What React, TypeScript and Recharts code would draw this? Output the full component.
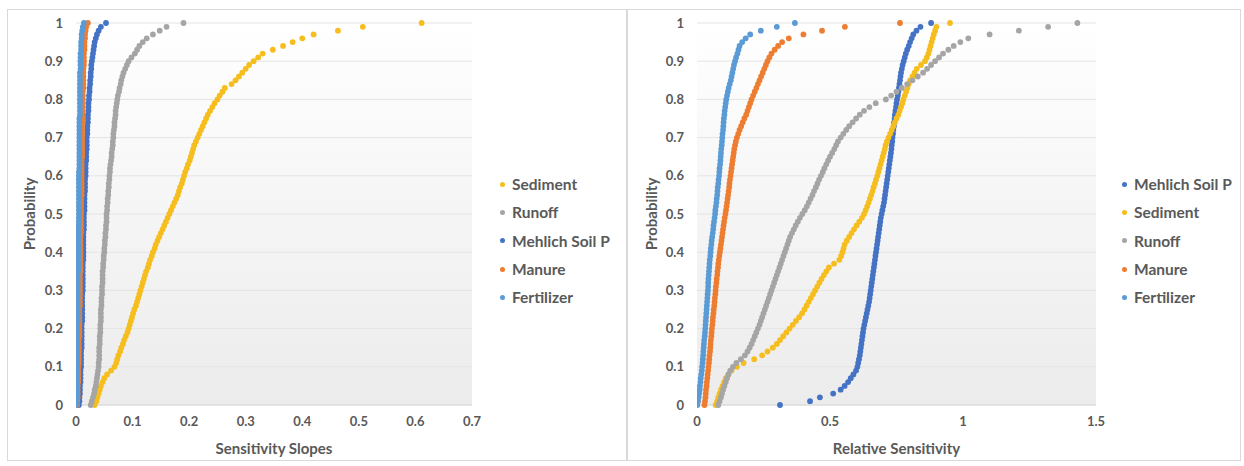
import React from "react";
import { CartesianGrid, Scatter, ScatterChart, XAxis, YAxis, Label } from "recharts";

// cumulative probability levels shared by every series
const probs = [
  0, 0.01, 0.02, 0.03, 0.04, 0.05, 0.06, 0.07, 0.08, 0.09,
  0.1, 0.11, 0.12, 0.13, 0.14, 0.15, 0.16, 0.17, 0.18, 0.19,
  0.2, 0.21, 0.22, 0.23, 0.24, 0.25, 0.26, 0.27, 0.28, 0.29,
  0.3, 0.31, 0.32, 0.33, 0.34, 0.35, 0.36, 0.37, 0.38, 0.39,
  0.4, 0.41, 0.42, 0.43, 0.44, 0.45, 0.46, 0.47, 0.48, 0.49,
  0.5, 0.51, 0.52, 0.53, 0.54, 0.55, 0.56, 0.57, 0.58, 0.59,
  0.6, 0.61, 0.62, 0.63, 0.64, 0.65, 0.66, 0.67, 0.68, 0.69,
  0.7, 0.71, 0.72, 0.73, 0.74, 0.75, 0.76, 0.77, 0.78, 0.79,
  0.8, 0.81, 0.82, 0.83, 0.84, 0.85, 0.86, 0.87, 0.88, 0.89,
  0.9, 0.91, 0.92, 0.93, 0.94, 0.95, 0.96, 0.97, 0.98, 0.99,
  1,
];

// left panel: sensitivity slopes
const slopeSediment = [
  0.033, 0.036, 0.038, 0.04, 0.042, 0.044, 0.047, 0.05, 0.055, 0.062,
  0.068, 0.071, 0.073, 0.075, 0.078, 0.08, 0.083, 0.085, 0.088, 0.091,
  0.093, 0.095, 0.097, 0.099, 0.101, 0.103, 0.106, 0.108, 0.11, 0.112,
  0.114, 0.116, 0.118, 0.12, 0.122, 0.124, 0.127, 0.129, 0.131, 0.134,
  0.136, 0.139, 0.141, 0.144, 0.147, 0.15, 0.153, 0.156, 0.159, 0.162,
  0.165, 0.168, 0.171, 0.174, 0.177, 0.18, 0.182, 0.184, 0.187, 0.189,
  0.191, 0.193, 0.196, 0.198, 0.201, 0.203, 0.205, 0.207, 0.209, 0.212,
  0.215, 0.218, 0.221, 0.224, 0.227, 0.23, 0.233, 0.237, 0.241, 0.245,
  0.25, 0.254, 0.259, 0.263, 0.275, 0.282, 0.288, 0.294, 0.3, 0.306,
  0.314, 0.322, 0.33, 0.348, 0.366, 0.383, 0.4, 0.42, 0.463, 0.507,
  0.611,
];
const slopeRunoff = [
  0.026, 0.028, 0.03, 0.032, 0.033, 0.035, 0.036, 0.037, 0.038, 0.039,
  0.04, 0.04, 0.041, 0.041, 0.041, 0.041, 0.042, 0.042, 0.042, 0.043,
  0.043, 0.043, 0.044, 0.044, 0.044, 0.044, 0.045, 0.045, 0.045, 0.046,
  0.046, 0.046, 0.047, 0.047, 0.047, 0.047, 0.048, 0.048, 0.049, 0.049,
  0.05, 0.05, 0.051, 0.051, 0.052, 0.052, 0.053, 0.053, 0.054, 0.054,
  0.054, 0.055, 0.055, 0.056, 0.056, 0.057, 0.057, 0.058, 0.058, 0.059,
  0.059, 0.06, 0.06, 0.061, 0.062, 0.063, 0.063, 0.064, 0.065, 0.065,
  0.066, 0.066, 0.067, 0.068, 0.068, 0.069, 0.07, 0.07, 0.071, 0.072,
  0.073, 0.074, 0.076, 0.077, 0.079, 0.08, 0.082, 0.084, 0.087, 0.09,
  0.093, 0.098, 0.104, 0.108, 0.112, 0.118, 0.125, 0.136, 0.148, 0.16,
  0.19,
];
const slopeMehlich = [
  0.005, 0.006, 0.006, 0.007, 0.007, 0.007, 0.008, 0.008, 0.008, 0.008,
  0.009, 0.009, 0.009, 0.009, 0.009, 0.01, 0.01, 0.01, 0.01, 0.01,
  0.01, 0.01, 0.011, 0.011, 0.011, 0.011, 0.011, 0.011, 0.011, 0.011,
  0.012, 0.012, 0.012, 0.012, 0.012, 0.012, 0.012, 0.012, 0.013, 0.013,
  0.013, 0.013, 0.013, 0.013, 0.013, 0.013, 0.014, 0.014, 0.014, 0.014,
  0.014, 0.015, 0.015, 0.015, 0.015, 0.015, 0.016, 0.016, 0.016, 0.016,
  0.017, 0.017, 0.017, 0.017, 0.018, 0.018, 0.018, 0.019, 0.019, 0.019,
  0.019, 0.02, 0.02, 0.02, 0.021, 0.021, 0.021, 0.022, 0.022, 0.022,
  0.023, 0.023, 0.024, 0.024, 0.025, 0.025, 0.026, 0.026, 0.027, 0.027,
  0.028, 0.029, 0.03, 0.031, 0.032, 0.033, 0.035, 0.037, 0.04, 0.044,
  0.053,
];
const slopeManure = [
  0.002, 0.002, 0.003, 0.003, 0.003, 0.003, 0.004, 0.004, 0.004, 0.004,
  0.004, 0.005, 0.005, 0.005, 0.005, 0.005, 0.005, 0.005, 0.006, 0.006,
  0.006, 0.006, 0.006, 0.006, 0.006, 0.006, 0.007, 0.007, 0.007, 0.007,
  0.007, 0.007, 0.007, 0.007, 0.007, 0.008, 0.008, 0.008, 0.008, 0.008,
  0.008, 0.008, 0.008, 0.008, 0.008, 0.009, 0.009, 0.009, 0.009, 0.009,
  0.009, 0.009, 0.009, 0.009, 0.009, 0.01, 0.01, 0.01, 0.01, 0.01,
  0.01, 0.01, 0.01, 0.01, 0.01, 0.011, 0.011, 0.011, 0.011, 0.011,
  0.011, 0.011, 0.011, 0.011, 0.011, 0.012, 0.012, 0.012, 0.012, 0.012,
  0.012, 0.012, 0.012, 0.013, 0.013, 0.013, 0.013, 0.013, 0.013, 0.014,
  0.014, 0.014, 0.014, 0.015, 0.015, 0.015, 0.016, 0.016, 0.017, 0.018,
  0.021,
];
const slopeFertilizer = [
  0, 0, 0.001, 0.001, 0.001, 0.001, 0.001, 0.001, 0.001, 0.001,
  0.002, 0.002, 0.002, 0.002, 0.002, 0.002, 0.002, 0.002, 0.002, 0.002,
  0.002, 0.002, 0.003, 0.003, 0.003, 0.003, 0.003, 0.003, 0.003, 0.003,
  0.003, 0.003, 0.003, 0.003, 0.003, 0.004, 0.004, 0.004, 0.004, 0.004,
  0.004, 0.004, 0.004, 0.004, 0.004, 0.004, 0.004, 0.004, 0.005, 0.005,
  0.005, 0.005, 0.005, 0.005, 0.005, 0.005, 0.005, 0.005, 0.005, 0.005,
  0.005, 0.005, 0.006, 0.006, 0.006, 0.006, 0.006, 0.006, 0.006, 0.006,
  0.006, 0.006, 0.006, 0.006, 0.006, 0.006, 0.007, 0.007, 0.007, 0.007,
  0.007, 0.007, 0.007, 0.007, 0.007, 0.007, 0.007, 0.007, 0.008, 0.008,
  0.008, 0.008, 0.008, 0.009, 0.009, 0.009, 0.01, 0.01, 0.011, 0.012,
  0.014,
];

// right panel: relative sensitivity
const relMehlich = [
  0.312, 0.425, 0.462, 0.512, 0.54, 0.555, 0.568, 0.578, 0.588, 0.598,
  0.603, 0.606, 0.609, 0.612, 0.614, 0.616, 0.618, 0.62, 0.622, 0.624,
  0.626, 0.629, 0.632, 0.635, 0.638, 0.641, 0.644, 0.647, 0.649, 0.651,
  0.653, 0.655, 0.657, 0.659, 0.661, 0.663, 0.665, 0.667, 0.669, 0.671,
  0.673, 0.675, 0.677, 0.679, 0.681, 0.683, 0.685, 0.687, 0.689, 0.691,
  0.694, 0.697, 0.7, 0.703, 0.705, 0.707, 0.709, 0.711, 0.713, 0.715,
  0.717, 0.719, 0.721, 0.723, 0.725, 0.727, 0.729, 0.731, 0.732, 0.734,
  0.735, 0.737, 0.738, 0.74, 0.741, 0.743, 0.744, 0.746, 0.748, 0.75,
  0.752, 0.755, 0.757, 0.759, 0.761, 0.763, 0.765, 0.767, 0.77, 0.773,
  0.777, 0.781, 0.785, 0.79, 0.796, 0.801, 0.807, 0.813, 0.825, 0.84,
  0.88,
];
const relSediment = [
  0.07, 0.076, 0.08, 0.085, 0.09, 0.096, 0.102, 0.108, 0.118, 0.13,
  0.15, 0.175, 0.215, 0.245, 0.265, 0.285, 0.3, 0.312, 0.324, 0.336,
  0.348, 0.36, 0.372, 0.384, 0.395, 0.404, 0.412, 0.42, 0.428, 0.436,
  0.444, 0.452, 0.46, 0.468, 0.477, 0.486, 0.496, 0.515, 0.535, 0.542,
  0.547, 0.551, 0.555, 0.563, 0.572, 0.581, 0.59, 0.6, 0.61, 0.62,
  0.628, 0.634, 0.64, 0.645, 0.65, 0.655, 0.66, 0.664, 0.669, 0.673,
  0.678, 0.682, 0.686, 0.69, 0.694, 0.698, 0.702, 0.706, 0.709, 0.714,
  0.72, 0.726, 0.732, 0.738, 0.744, 0.75, 0.757, 0.762, 0.767, 0.772,
  0.776, 0.781, 0.786, 0.791, 0.796, 0.801, 0.81, 0.818, 0.826, 0.842,
  0.857, 0.864, 0.87, 0.874, 0.878, 0.882, 0.886, 0.89, 0.895, 0.9,
  0.951,
];
const relRunoff = [
  0.08, 0.085, 0.09, 0.094, 0.098, 0.103, 0.108, 0.113, 0.118, 0.125,
  0.135, 0.148, 0.165, 0.18, 0.19, 0.198, 0.205, 0.211, 0.217, 0.223,
  0.229, 0.235, 0.24, 0.245, 0.25, 0.255, 0.26, 0.265, 0.27, 0.275,
  0.28, 0.285, 0.29, 0.295, 0.3, 0.305, 0.31, 0.315, 0.32, 0.325,
  0.33, 0.335, 0.34, 0.345, 0.35, 0.357, 0.364, 0.371, 0.379, 0.387,
  0.396, 0.405, 0.413, 0.42, 0.427, 0.434, 0.44, 0.447, 0.453, 0.459,
  0.466, 0.473, 0.479, 0.486, 0.493, 0.5, 0.508, 0.516, 0.523, 0.53,
  0.54, 0.55, 0.561, 0.572, 0.585, 0.598, 0.612, 0.628, 0.648, 0.672,
  0.71, 0.73, 0.75, 0.77, 0.79, 0.81, 0.83, 0.85, 0.865, 0.88,
  0.895, 0.91, 0.925, 0.945, 0.965, 0.99, 1.02, 1.1, 1.21, 1.32,
  1.43,
];
const relManure = [
  0.028, 0.03, 0.032, 0.033, 0.034, 0.036, 0.037, 0.039, 0.04, 0.042,
  0.043, 0.045, 0.046, 0.047, 0.049, 0.05, 0.051, 0.052, 0.054, 0.055,
  0.056, 0.058, 0.059, 0.06, 0.062, 0.063, 0.065, 0.066, 0.067, 0.069,
  0.07, 0.071, 0.073, 0.074, 0.076, 0.077, 0.079, 0.08, 0.082, 0.084,
  0.086, 0.088, 0.09, 0.092, 0.094, 0.096, 0.098, 0.1, 0.102, 0.104,
  0.107, 0.109, 0.111, 0.113, 0.115, 0.117, 0.119, 0.121, 0.122, 0.124,
  0.126, 0.128, 0.13, 0.132, 0.134, 0.136, 0.138, 0.14, 0.143, 0.146,
  0.15, 0.155, 0.16, 0.166, 0.172, 0.178, 0.185, 0.19, 0.195, 0.2,
  0.205, 0.211, 0.217, 0.223, 0.229, 0.235, 0.241, 0.247, 0.253, 0.259,
  0.265, 0.272, 0.28, 0.292, 0.305, 0.32, 0.345, 0.4, 0.47, 0.556,
  0.763,
];
const relFertilizer = [
  0.001, 0.004, 0.006, 0.008, 0.01, 0.011, 0.013, 0.014, 0.016, 0.018,
  0.019, 0.021, 0.022, 0.023, 0.024, 0.025, 0.026, 0.027, 0.029, 0.03,
  0.031, 0.032, 0.033, 0.034, 0.035, 0.036, 0.037, 0.038, 0.039, 0.04,
  0.041, 0.042, 0.042, 0.043, 0.044, 0.045, 0.046, 0.047, 0.048, 0.05,
  0.051, 0.052, 0.054, 0.055, 0.057, 0.059, 0.061, 0.062, 0.064, 0.066,
  0.068, 0.069, 0.071, 0.073, 0.074, 0.076, 0.077, 0.078, 0.08, 0.081,
  0.083, 0.084, 0.085, 0.087, 0.088, 0.089, 0.09, 0.091, 0.093, 0.094,
  0.095, 0.096, 0.098, 0.099, 0.1, 0.101, 0.103, 0.104, 0.106, 0.108,
  0.11, 0.113, 0.116, 0.119, 0.123, 0.127, 0.13, 0.133, 0.136, 0.139,
  0.143, 0.147, 0.152, 0.156, 0.16, 0.17, 0.183, 0.2, 0.24, 0.3,
  0.368,
];

const probTicks = [0, 0.1, 0.2, 0.3, 0.4, 0.5, 0.6, 0.7, 0.8, 0.9, 1];
const slopeTicks = [0, 0.1, 0.2, 0.3, 0.4, 0.5, 0.6, 0.7];
const relTicks = [0, 0.5, 1, 1.5];

const COLORS: Record<string, string> = {
  Sediment: "#F5BE1E",
  Runoff: "#A5A5A5",
  "Mehlich Soil P": "#4472C4",
  Manure: "#ED7D31",
  Fertilizer: "#5B9BD5",
};

const FONT = "Lato, 'Open Sans', sans-serif";
const TEXT = "#595959";

type Series = { name: string; xs: number[] };

const leftSeries: Series[] = [
  { name: "Sediment", xs: slopeSediment },
  { name: "Runoff", xs: slopeRunoff },
  { name: "Mehlich Soil P", xs: slopeMehlich },
  { name: "Manure", xs: slopeManure },
  { name: "Fertilizer", xs: slopeFertilizer },
];

const rightSeries: Series[] = [
  { name: "Mehlich Soil P", xs: relMehlich },
  { name: "Sediment", xs: relSediment },
  { name: "Runoff", xs: relRunoff },
  { name: "Manure", xs: relManure },
  { name: "Fertilizer", xs: relFertilizer },
];

const toPoints = (xs: number[]) => xs.map((x, i) => ({ x, p: probs[i] }));

function Dot(props: any) {
  const { cx, cy, fill } = props;
  if (cx == null || cy == null) return null;
  return <circle cx={cx} cy={cy} r={2.9} fill={fill} />;
}

function LegendBox({ series, left, top }: { series: Series[]; left: number; top: number }) {
  return (
    <div style={{ position: "absolute", left, top, fontFamily: FONT }}>
      {series.map((s) => (
        <div
          key={s.name}
          style={{ display: "flex", alignItems: "center", height: 28.3, fontSize: 15.5, fontWeight: 700, color: TEXT }}
        >
          <span
            style={{ width: 5, height: 5, borderRadius: 3, background: COLORS[s.name], marginRight: 7, display: "inline-block" }}
          />
          {s.name}
        </div>
      ))}
    </div>
  );
}

type PanelProps = {
  left: number;
  width: number;
  series: Series[];
  xTicks: number[];
  xMax: number;
  xTitle: string;
  marginLeft: number;
  marginRight: number;
  labelOffset: number;
  legendLeft: number;
};

function Panel(props: PanelProps) {
  const { left, width, series, xTicks, xMax, xTitle, marginLeft, marginRight, labelOffset, legendLeft } = props;
  const height = 452;
  const plotLeft = marginLeft + 58;
  const plotWidth = width - plotLeft - marginRight;
  const tick = { fill: TEXT, fontSize: 13, fontWeight: 700, fontFamily: FONT };
  return (
    <div
      style={{
        position: "absolute",
        left,
        top: 9,
        width,
        height,
        border: "1px solid #d9d9d9",
        boxSizing: "border-box",
        background: "#fff",
      }}
    >
      <div
        style={{
          position: "absolute",
          left: plotLeft - 1,
          top: 13,
          width: plotWidth,
          height: 382,
          background: "linear-gradient(#ffffff, #f3f3f3 60%, #ececec)",
        }}
      />
      <div style={{ position: "absolute", left: -1, top: -1 }}>
        <ScatterChart width={width} height={height} margin={{ top: 14, right: marginRight, bottom: 4, left: marginLeft }}>
          <CartesianGrid vertical={false} stroke="#e4e4e4" />
          <XAxis
            type="number"
            dataKey="x"
            domain={[0, xMax]}
            ticks={xTicks}
            tickSize={0}
            tickMargin={12}
            height={52}
            stroke="#d9d9d9"
            tick={tick}
            allowDataOverflow
          >
            <Label
              value={xTitle}
              position="insideBottom"
              offset={3}
              style={{ fill: TEXT, fontSize: 15, fontWeight: 700, fontFamily: FONT }}
            />
          </XAxis>
          <YAxis
            type="number"
            dataKey="p"
            domain={[0, 1]}
            ticks={probTicks}
            tickSize={0}
            tickMargin={13}
            width={58}
            axisLine={false}
            tick={tick}
          >
            <Label
              value="Probability"
              angle={-90}
              position="insideLeft"
              offset={labelOffset}
              style={{ textAnchor: "middle", fill: TEXT, fontSize: 15, fontWeight: 700, fontFamily: FONT }}
            />
          </YAxis>
          {series.map((s) => (
            <Scatter
              key={s.name}
              name={s.name}
              data={toPoints(s.xs)}
              fill={COLORS[s.name]}
              shape={<Dot />}
              isAnimationActive={false}
            />
          ))}
        </ScatterChart>
      </div>
      <LegendBox series={series} left={legendLeft} top={160} />
    </div>
  );
}

export default function App() {
  return (
    <div style={{ position: "fixed", left: 0, top: 0, width: 1244, height: 466, background: "#fff" }}>
      <Panel
        left={7}
        width={620}
        series={leftSeries}
        xTicks={slopeTicks}
        xMax={0.7}
        xTitle="Sensitivity Slopes"
        marginLeft={11}
        marginRight={155}
        labelOffset={12}
        legendLeft={492}
      />
      <Panel
        left={627}
        width={614}
        series={rightSeries}
        xTicks={relTicks}
        xMax={1.5}
        xTitle="Relative Sensitivity"
        marginLeft={12}
        marginRight={145}
        labelOffset={13}
        legendLeft={494}
      />
    </div>
  );
}
